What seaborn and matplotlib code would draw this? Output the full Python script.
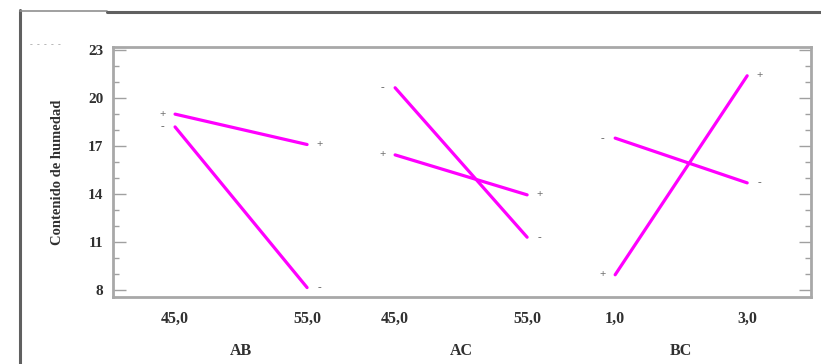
import pandas as pd
import matplotlib.pyplot as plt
from matplotlib.lines import Line2D
import seaborn as sns

# Gráfico de interacción - contenido de humedad
factores = ['AB', 'AC', 'BC']
niveles = [['45,0', '55,0'], ['45,0', '55,0'], ['1,0', '3,0']]
# valores en nivel bajo / alto del primer factor, para el segundo factor en "+" y "-"
mas = [[19.0, 17.1], [16.45, 13.95], [8.95, 21.4]]
menos = [[18.2, 8.15], [20.65, 11.3], [17.5, 14.7]]

filas = []
for g, fac in enumerate(factores):
    for signo, vals in (('+', mas[g]), ('-', menos[g])):
        for lvl, v in enumerate(vals):
            filas.append({'pos': g * 5 + lvl * 3, 'valor': v, 'signo': signo,
                          'linea': f'{fac}{signo}', 'lvl': lvl})
df = pd.DataFrame(filas)

sns.set_style('white')
plt.rcParams['font.family'] = ['Liberation Serif', 'DejaVu Serif']

fig = plt.figure(figsize=(8.21, 3.64), dpi=100)
ax = fig.add_axes([113 / 821, 1 - 297 / 364, 698 / 821, 250 / 364])

sns.lineplot(data=df, x='pos', y='valor', units='linea', estimator=None,
             color='#ff00ff', linewidth=2.3, ax=ax, legend=False)

# etiquetas + / - en los extremos de cada línea
for _, r in df.iterrows():
    dx = -9 if r['lvl'] == 0 else 9
    ax.annotate(r['signo'], (r['pos'], r['valor']), xytext=(dx, 0),
                textcoords='offset points', ha='center', va='center',
                fontsize=8, color='#707070', fontweight='bold')

ax.set_xlim(-1.41, 14.45)
ax.set_ylim(7.56, 23.2)
ax.set_yticks([8, 11, 14, 17, 20, 23])
ax.set_yticks(range(8, 24), minor=True)
ax.set_xticks([])
ax.tick_params(axis='y', which='major', direction='in', length=9, width=1,
               color='#a0a0a0', left=True, right=True, labelsize=11, pad=7,
               labelcolor='#303030')
ax.tick_params(axis='y', which='minor', direction='in', length=4, width=1,
               color='#a0a0a0', left=True, right=True)
for lab in ax.get_yticklabels():
    lab.set_fontweight('bold')
for s in ax.spines.values():
    s.set_color('#a8a8a8')
    s.set_linewidth(2)
ax.set_xlabel('')
ax.set_ylabel('Contenido de humedad', fontsize=10.5, fontweight='bold',
              color='#303030', labelpad=17)

# etiquetas de niveles y de factores bajo el eje
for g, fac in enumerate(factores):
    for lvl in range(2):
        ax.annotate(niveles[g][lvl], (g * 5 + lvl * 3, 0), xycoords=('data', 'axes fraction'),
                    xytext=(0, -16), textcoords='offset points', ha='center', va='center',
                    fontsize=11.5, fontweight='bold', color='#303030')
    ax.annotate(fac, (g * 5 + 1.5, 0), xycoords=('data', 'axes fraction'),
                xytext=(0, -39), textcoords='offset points', ha='center', va='center',
                fontsize=11.5, fontweight='bold', color='#303030')

# marco exterior
fig.add_artist(Line2D([20 / 821, 20 / 821], [0, 1 - 10 / 364], color='#606060', lw=2.2))
fig.add_artist(Line2D([20 / 821, 107 / 821], [1 - 11 / 364, 1 - 11 / 364], color='#909090', lw=1.2))
fig.add_artist(Line2D([107 / 821, 1], [1 - 12 / 364, 1 - 12 / 364], color='#606060', lw=2.2))
fig.text(30 / 821, 1 - 45 / 364, '-  -  -  -  -', fontsize=6, color='#909090', va='center')

fig.savefig('out.png', dpi=100)
